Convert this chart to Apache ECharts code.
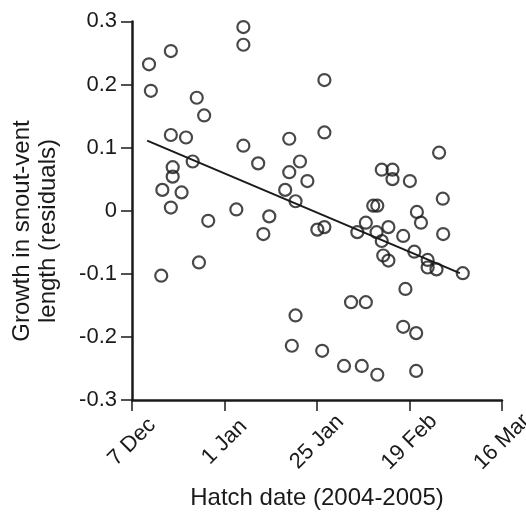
<!DOCTYPE html>
<html>
<head>
<meta charset="utf-8">
<script src="https://cdn.jsdelivr.net/npm/echarts@6/dist/echarts.min.js"></script>
<style>
html,body{margin:0;padding:0;background:#fff;}
#chart{width:526px;height:512px;}
</style>
</head>
<body>
<div id="chart"></div>
<script>
// x values: days after 7 Dec 2004
const xTickLabels = ['7 Dec', '1 Jan', '25 Jan', '19 Feb', '16 Mar'];
const yTickLabels = ['-0.3', '-0.2', '-0.1', '0', '0.1', '0.2', '0.3'];
const hatchDay = [
  4.6, 5.1, 10.5, 30.1, 30.1, 17.5, 19.5, 10.5, 14.6, 30.1,
  16.4, 11.0, 11.0, 8.2, 13.4, 10.5, 34.1, 42.5, 45.4, 42.5,
  47.4, 41.4, 44.2, 20.6, 28.2, 37.1, 52.0, 52.0,
  35.5, 18.1, 7.9, 44.2, 43.2, 51.4, 50.1, 52.0,
  67.5, 70.4, 70.4, 75.1, 83.0, 84.0, 65.2, 66.3, 77.0, 78.1, 63.2,
  84.1, 60.9, 66.1, 69.3, 67.5, 73.3, 67.9, 69.3, 76.3, 79.9,
  79.9, 82.3, 89.4, 73.9, 59.2, 63.2, 73.3, 76.8, 57.3, 62.1, 66.3, 76.8
];
const growthResidual = [
  0.232, 0.190, 0.253, 0.291, 0.263, 0.179, 0.151, 0.120, 0.116, 0.103,
  0.078, 0.069, 0.054, 0.033, 0.029, 0.005, 0.075, 0.114, 0.078, 0.061,
  0.047, 0.033, 0.015, -0.016, 0.002, -0.009, 0.207, 0.124,
  -0.037, -0.082, -0.103, -0.166, -0.214, -0.222, -0.030, -0.026,
  0.065, 0.065, 0.050, 0.047, 0.092, 0.019, 0.008, 0.008, -0.002, -0.019, -0.019,
  -0.037, -0.034, -0.034, -0.026, -0.048, -0.040, -0.071, -0.079, -0.065, -0.078,
  -0.090, -0.093, -0.099, -0.124, -0.145, -0.145, -0.184, -0.194, -0.246, -0.246, -0.260, -0.254
];
const fitX = [4.1, 88.6];
const fitY = [0.111, -0.099];

const FONT = 'Liberation Sans';
const INK = '#1a1a1a';
const chart = echarts.init(document.getElementById('chart'), null, {renderer: 'canvas'});
chart.setOption({
  animation: false,
  backgroundColor: '#fff',
  grid: {left: 132, right: 24, top: 21.4, bottom: 112, containLabel: false, outerBoundsMode: 'none'},
  xAxis: {
    type: 'value', min: 0, max: 100, interval: 25,
    name: 'Hatch date (2004-2005)', nameLocation: 'middle', nameGap: 98,
    nameTextStyle: {fontFamily: FONT, fontSize: 24, color: INK, verticalAlign: 'middle'},
    splitLine: {show: false},
    axisLine: {show: true, onZero: false, lineStyle: {color: INK, width: 2.5}},
    axisTick: {show: true, inside: false, length: 11, lineStyle: {color: INK, width: 1.5}},
    axisLabel: {
      showMinLabel: true, showMaxLabel: true, hideOverlap: false,
      rotate: 45, align: 'center', verticalAlign: 'middle', margin: 42,
      fontFamily: FONT, fontSize: 22, color: INK,
      formatter: v => xTickLabels[Math.round(v / 25)]
    }
  },
  yAxis: {
    type: 'value', min: -0.3, max: 0.3, interval: 0.1,
    splitLine: {show: false},
    axisLine: {show: true, onZero: false, lineStyle: {color: INK, width: 2.5}},
    axisTick: {show: true, inside: false, length: 11, lineStyle: {color: INK, width: 1.5}},
    axisLabel: {
      showMinLabel: true, showMaxLabel: true, margin: 15,
      fontFamily: FONT, fontSize: 22, color: INK,
      formatter: v => yTickLabels[Math.round(v * 10) + 3]
    }
  },
  graphic: [{
    type: 'text', x: 35, y: 231, rotation: Math.PI / 2,
    style: {
      text: 'Growth in snout-vent\nlength (residuals)',
      fontFamily: FONT, fontSize: 24, fill: INK, lineHeight: 26,
      align: 'center', verticalAlign: 'middle'
    }
  }],
  series: [
    {
      type: 'scatter', symbol: 'circle', symbolSize: 12,
      data: hatchDay.map((d, i) => [d, growthResidual[i]]),
      itemStyle: {color: 'rgba(0,0,0,0)', borderColor: INK, borderWidth: 2.2},
      z: 2
    },
    {
      type: 'line', showSymbol: false, symbol: 'none',
      data: fitX.map((d, i) => [d, fitY[i]]),
      lineStyle: {color: INK, width: 2},
      z: 3
    }
  ]
});
</script>
</body>
</html>
